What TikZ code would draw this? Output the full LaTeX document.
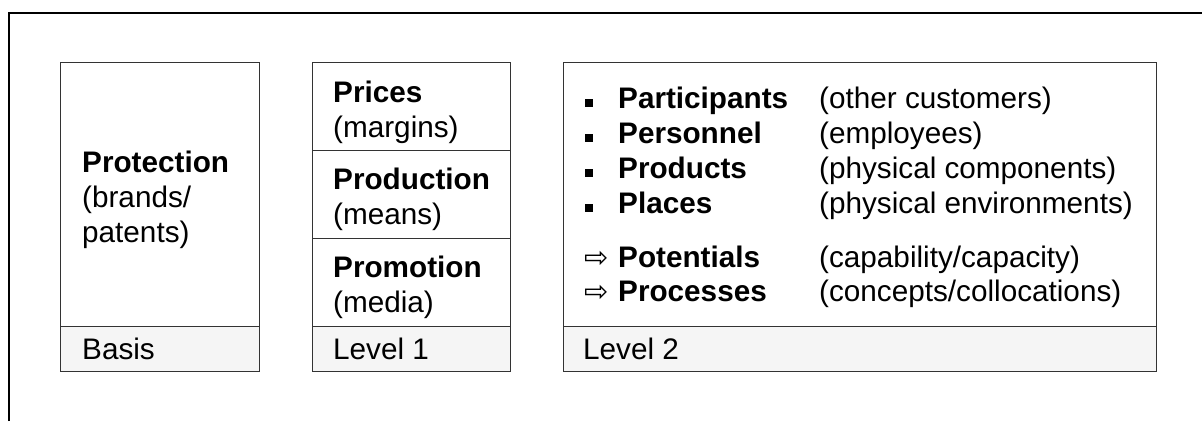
\documentclass[tikz,border=0pt]{standalone}
\usepackage{fontspec}
\setmainfont{Liberation Sans}
\newfontfamily\symfont{DejaVu Sans}
\begin{document}
\begin{tikzpicture}[x=1bp,y=-1bp,
  frame/.style={line width=2bp,black},
  panel/.style={draw=black!80,line width=1bp},
  footer/.style={panel,fill=black!4},
  txt/.style={anchor=base west,inner sep=0pt,font=\fontsize{29.7bp}{35bp}\selectfont},
  hd/.style={anchor=base west,inner sep=0pt,font=\fontsize{29.7bp}{35bp}\selectfont\bfseries},
  arr/.style={anchor=base west,inner sep=0pt,font=\fontsize{29bp}{30bp}\selectfont\symfont},
  bullet/.style={fill=black}]
\useasboundingbox (0,0) rectangle (1202,421);

% outer frame (top and left edges)
\draw[frame] (9,421) -- (9,13) -- (1202,13);

% basis column
\draw[panel] (60,62.5) rectangle (259,326.5);
\draw[footer] (60,326.5) rectangle (259,371);
\node[hd]  (prot)  at (82,172) {Protection};
\node[txt] (protA) at (82,207) {(brands/};
\node[txt] (protB) at (82,242) {patents)};
\node[txt] (basis) at (82,359) {Basis};

% level 1 column
\draw[panel] (312,62.5) rectangle (510,150.5);
\draw[panel] (312,150.5) rectangle (510,238.5);
\draw[panel] (312,238.5) rectangle (510,326.5);
\draw[footer] (312,326.5) rectangle (510,371);
\node[hd]  (pri)  at (333,102) {Prices};
\node[txt] (priA) at (333,137) {(margins)};
\node[hd]  (prd)  at (333,189) {Production};
\node[txt] (prdA) at (333,224) {(means)};
\node[hd]  (pro)  at (333,277) {Promotion};
\node[txt] (proA) at (333,312) {(media)};
\node[txt] (lv1)  at (333,359) {Level 1};

% level 2 column
\draw[panel] (563,62.5) rectangle (1156,326.5);
\draw[footer] (563,326.5) rectangle (1156,371);
\foreach \y in {108,143,178,213}
  \fill[bullet] (585,\y-9) rectangle (592.5,\y-1.5);
\node[hd]  (par)  at (618,108) {Participants};
\node[txt] (parA) at (819,108) {(other customers)};
\node[hd]  (per)  at (618,143) {Personnel};
\node[txt] (perA) at (819,143) {(employees)};
\node[hd]  (prod) at (618,178) {Products};
\node[txt] (prodA) at (819,178) {(physical components)};
\node[hd]  (pla)  at (618,213) {Places};
\node[txt] (plaA) at (819,213) {(physical environments)};
\node[arr] (a1)   at (584,267) {⇨};
\node[hd]  (pot)  at (618,267) {Potentials};
\node[txt] (potA) at (819,267) {(capability/capacity)};
\node[arr] (a2)   at (584,301) {⇨};
\node[hd]  (proc) at (618,301) {Processes};
\node[txt] (procA) at (819,301) {(concepts/collocations)};
\node[txt] (lv2)  at (583,359) {Level 2};
\end{tikzpicture}
\end{document}
